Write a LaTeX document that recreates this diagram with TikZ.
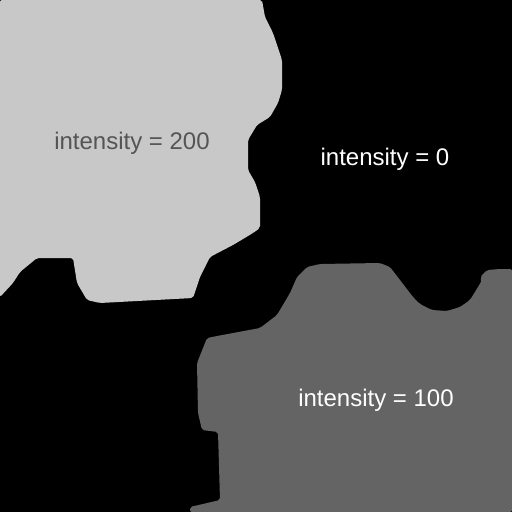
\documentclass[tikz,border=0pt]{standalone}
\usepackage{fontspec}
\setmainfont{Liberation Sans}
\usetikzlibrary{positioning}

\begin{document}
\begin{tikzpicture}[
    x=1pt, y=-1pt,
    region/.style={draw=none, rounded corners=2pt},
    lbl/.style={font=\fontsize{24}{26}\selectfont, inner sep=0pt}
]
    \definecolor{lightregion}{RGB}{200,200,200}
    \definecolor{darkregion}{RGB}{100,100,100}
    \definecolor{darktext}{RGB}{85,85,85}

    % background, intensity 0
    \fill[black] (0,0) rectangle (512,512);

    % intensity 200 region
    \fill[lightregion, region] (0,0) -- (262,0) -- (265,17) -- (273,33) -- (282,60) -- (282,90)
        -- (278,103) -- (270,117) -- (257,125) -- (248,140) -- (248,170) -- (255,182)
        -- (260,197) -- (260,228) -- (253,233) -- (233,245) -- (210,257) -- (200,277)
        -- (193,298) -- (100,303) -- (87,300) -- (77,283) -- (73,258) -- (37,258)
        -- (20,272) -- (13,283) -- (0,297) -- cycle;

    % intensity 100 region
    \fill[darkregion, region] (190,512) -- (190,507) -- (220,500) -- (218,432) -- (202,430)
        -- (198,413) -- (197,363) -- (207,338) -- (217,336) -- (260,328) -- (277,315)
        -- (290,293) -- (297,277) -- (307,267) -- (320,264) -- (380,263) -- (390,267)
        -- (400,280) -- (413,297) -- (420,304) -- (432,310) -- (447,311) -- (460,307)
        -- (470,300) -- (478,287) -- (482,280) -- (480,277) -- (487,270) -- (500,269)
        -- (512,269) -- (512,512) -- cycle;

    \node[lbl, text=darktext] (high) at (132,143) {intensity = 200};
    \node[lbl, text=white] (zero) at (385,159) {intensity = 0};
    \node[lbl, text=white] (mid) at (376,400) {intensity = 100};
\end{tikzpicture}
\end{document}
